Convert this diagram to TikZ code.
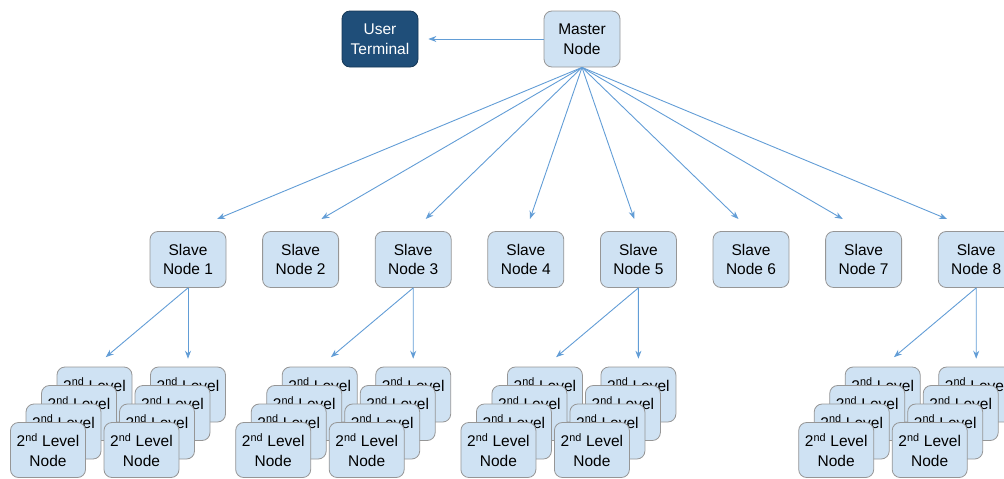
\documentclass[tikz,border=0pt]{standalone}
\usepackage{fontspec}
\setmainfont{Liberation Sans}
\usetikzlibrary{arrows.meta,positioning,calc}
\definecolor{nodeblue}{RGB}{207,226,243}
\definecolor{termblue}{RGB}{31,78,121}
\definecolor{linkblue}{RGB}{98,157,214}
\definecolor{edgegray}{RGB}{150,150,150}

\begin{document}
\begin{tikzpicture}[
    x=1pt, y=-1pt,
    node distance=35.8pt,
    box/.style={rectangle, rounded corners=8pt, draw=edgegray, line width=0.8pt, fill=nodeblue, minimum width=76pt, minimum height=56pt, align=center, inner sep=2pt, font=\fontsize{15.5}{19.5}\selectfont},
    card/.style={box, minimum width=75pt, minimum height=55pt},
    arrow/.style={-{Stealth[length=8pt,width=6pt]}, draw=linkblue, line width=0.9pt}
]
    \useasboundingbox (0,0) rectangle (1004,479);

    % Top row
    \node[box] (master) at (582,39) {Master\\Node};
    \node[box, fill=termblue, draw=termblue!70!black, text=white] (terminal) at (380,39) {User\\Terminal};

    % Slave row
    \node[box] (s1) at (188,259.5) {Slave\\Node 1};
    \foreach \i [remember=\i as \j (initially 1)] in {2,...,8}
        \node[box, right=of s\j] (s\i) {Slave\\Node \i};

    % Arrows from the master
    \draw[arrow, shorten >=10pt] (master) -- (terminal);
    \foreach \i in {1,...,8}
        \draw[arrow] (master.south) -- ($(master.south)!0.926!(s\i.north)$);

    % Stacks of 2nd level nodes
    \foreach \s in {1,3,5,8} {
        \foreach \k in {0,...,3}
            \node[card] (a\s\k) at ($(s\s)+(-93.5-15.5*\k, 135+18.5*\k)$) {2\textsuperscript{nd} Level\\Node};
        \foreach \k in {0,...,3}
            \node[card] (b\s\k) at ($(s\s)+(-15.5*\k, 135+18.5*\k)$) {2\textsuperscript{nd} Level\\Node};
        \draw[arrow] (s\s.south) -- ($(s\s.south)!0.88!(a\s0.north)$);
        \draw[arrow] (s\s.south) -- ($(s\s.south)!0.9!(b\s0.north)$);
    }
\end{tikzpicture}
\end{document}
